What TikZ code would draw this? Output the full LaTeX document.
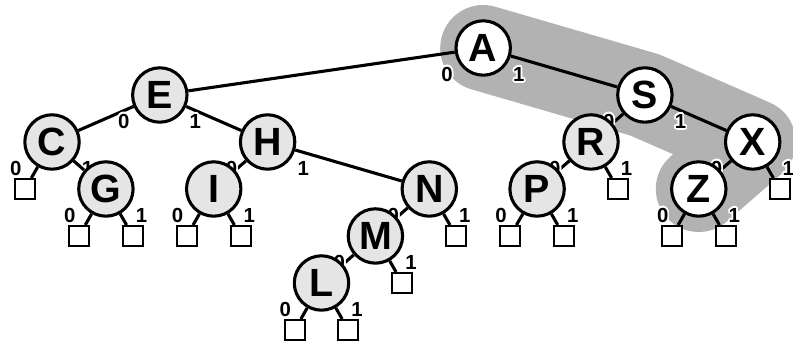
\documentclass[tikz,border=0pt]{standalone}
\usepackage{fontspec}
\setmainfont{Liberation Sans}
\usepackage[copies]{contour}
\contourlength{1.2pt}
\usetikzlibrary{calc}
\pgfdeclarelayer{band}
\pgfdeclarelayer{wires}
\pgfsetlayers{band,wires,main}

\begin{document}
\begin{tikzpicture}[x=1.3475cm, y=-1.175cm,
    key/.style={circle, draw, line width=2.2pt, fill=black!10, minimum size=1.36cm, inner sep=0pt,
                font=\fontsize{28}{28}\selectfont\bfseries},
    hit/.style={key, fill=white},
    leaf/.style={rectangle, draw, line width=1.4pt, fill=white, minimum size=0.5cm, inner sep=0pt},
    bit/.style={inner sep=0pt, font=\fontsize{14.5}{14.5}\selectfont\bfseries},
    link/.style={line width=2.2pt}]
    \useasboundingbox (-0.965,-1.021) rectangle (13.748,6.298);

    % Keys, placed in order along x and by depth along y
    \node[hit] (A) at (8,0)  {A};
    \node[key] (E) at (2,1)  {E};
    \node[hit] (S) at (11,1) {S};
    \node[key] (C) at (0,2)  {C};
    \node[key] (H) at (4,2)  {H};
    \node[key] (R) at (10,2) {R};
    \node[hit] (X) at (13,2) {X};
    \node[key] (G) at (1,3)  {G};
    \node[key] (I) at (3,3)  {I};
    \node[key] (N) at (7,3)  {N};
    \node[key] (P) at (9,3)  {P};
    \node[hit] (Z) at (12,3) {Z};
    \node[key] (M) at (6,4)  {M};
    \node[key] (L) at (5,5)  {L};

    % Empty links
    \node[leaf] (C0) at (-0.5,3) {};
    \node[leaf] (G0) at (0.5,4)  {};
    \node[leaf] (G1) at (1.5,4)  {};
    \node[leaf] (I0) at (2.5,4)  {};
    \node[leaf] (I1) at (3.5,4)  {};
    \node[leaf] (N1) at (7.5,4)  {};
    \node[leaf] (M1) at (6.5,5)  {};
    \node[leaf] (L0) at (4.5,6)  {};
    \node[leaf] (L1) at (5.5,6)  {};
    \node[leaf] (P0) at (8.5,4)  {};
    \node[leaf] (P1) at (9.5,4)  {};
    \node[leaf] (R1) at (10.5,3) {};
    \node[leaf] (X1) at (13.5,3) {};
    \node[leaf] (Z0) at (11.5,4) {};
    \node[leaf] (Z1) at (12.5,4) {};

    % Search path for Z
    \begin{pgfonlayer}{band}
        \draw[black!30, line width=2.15cm, line cap=round, line join=round]
            (A.center) -- (S.center) -- (X.center) -- (Z.center);
    \end{pgfonlayer}

    \begin{pgfonlayer}{wires}
        \path[link]
        (A) edge (E) edge (S)
        (E) edge (C) edge (H)
        (S) edge (R) edge (X)
        (C) edge (C0) edge (G)
        (H) edge (I) edge (N)
        (R) edge (P) edge (R1)
        (X) edge (Z) edge (X1)
        (G) edge (G0) edge (G1)
        (I) edge (I0) edge (I1)
        (N) edge (M) edge (N1)
        (P) edge (P0) edge (P1)
        (Z) edge (Z0) edge (Z1)
        (M) edge (L) edge (M1)
        (L) edge (L0) edge (L1);

        % Bit labels under each key, with a white rim
        \foreach \k in {A,E,S,C,H,R,X,G,I,N,P,Z,M,L} {
            \node[bit] at ($(\k)+(-0.67,0.58)$) {\contour{white}{0}};
            \node[bit] at ($(\k)+(0.66,0.58)$)  {\contour{white}{1}};
        }
    \end{pgfonlayer}
\end{tikzpicture}
\end{document}
